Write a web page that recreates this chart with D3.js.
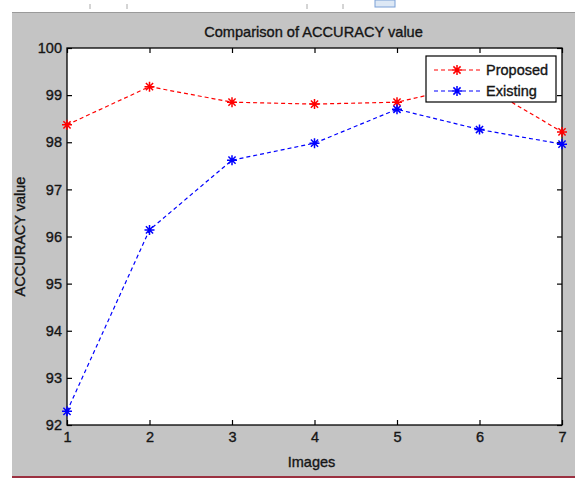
<!DOCTYPE html>
<html>
<head>
<meta charset="utf-8">
<script src="https://cdn.jsdelivr.net/npm/d3@7"></script>
<style>
  body { margin: 0; background: #fff; }
  text { font-family: "Liberation Sans", Arial, sans-serif; fill: #151515; stroke: #151515; stroke-width: 0.35px; }
</style>
</head>
<body>
<div id="content"></div>
<script>
// datas
const images = [1, 2, 3, 4, 5, 6, 7];
const proposed = [98.37, 99.18, 98.85, 98.81, 98.85, 99.25, 98.22];
const existing = [92.29, 96.14, 97.62, 97.98, 98.70, 98.27, 97.96];
const yTicks = [92, 93, 94, 95, 96, 97, 98, 99, 100];
const seriesNames = ["Proposed", "Existing"];
const seriesColors = ["#ff0000", "#0000ff"];

// view
const w = 575;
const h = 478;
const pLeft = 67, pRight = 562, pTop = 48, pBottom = 425;

const svg = d3.select("#content")
            .append("svg")
            .attr("width", w)
            .attr("height", h);

// window frame
svg.append("rect").attr("x", 12).attr("y", 13).attr("width", w - 12).attr("height", 463).attr("fill", "#c4c4c4");
svg.append("line").attr("x1", 12).attr("x2", w).attr("y1", 12.5).attr("y2", 12.5).attr("stroke", "#9a9a9a");
svg.append("rect").attr("x", 12).attr("y", 476).attr("width", w - 12).attr("height", 2).attr("fill", "#9b3040");
// bits of toolbar
[90, 127, 307, 343].forEach(x => {
  svg.append("line").attr("x1", x).attr("x2", x).attr("y1", 4).attr("y2", 9).attr("stroke", "#aaa");
});
svg.append("rect").attr("x", 375).attr("y", 0).attr("width", 20).attr("height", 7).attr("fill", "#dde8f5").attr("stroke", "#7aa0d6");

const x = d3.scaleLinear().domain([1, 7]).range([pLeft, pRight]);
const y = d3.scaleLinear().domain([92, 100]).range([pBottom, pTop]);

// plot area
svg.append("rect")
   .attr("x", pLeft).attr("y", pTop)
   .attr("width", pRight - pLeft).attr("height", pBottom - pTop)
   .attr("fill", "#fff");

// axes, ticks inward like matlab
const ax = (g, axis) => {
  g.call(axis);
  g.select(".domain").remove();
  g.selectAll("line").attr("stroke", "#000").attr("stroke-width", 1.2);
  g.selectAll("text").attr("font-size", 14.5).attr("fill", "#151515")
   .attr("font-family", "Liberation Sans, Arial, sans-serif");
};

svg.append("g").attr("transform", `translate(0,${pBottom})`)
   .call(g => ax(g, d3.axisBottom(x).tickValues(images).tickFormat(d3.format("d")).tickSizeInner(-5).tickSizeOuter(0).tickPadding(7)));
svg.append("g").attr("transform", `translate(0,${pTop})`)
   .call(g => ax(g, d3.axisTop(x).tickValues(images).tickFormat("").tickSizeInner(-5).tickSizeOuter(0)));
svg.append("g").attr("transform", `translate(${pLeft},0)`)
   .call(g => ax(g, d3.axisLeft(y).tickValues(yTicks).tickFormat(d3.format("d")).tickSizeInner(-5).tickSizeOuter(0).tickPadding(5)));
svg.append("g").attr("transform", `translate(${pRight},0)`)
   .call(g => ax(g, d3.axisRight(y).tickValues(yTicks).tickFormat("").tickSizeInner(-5).tickSizeOuter(0)));

// box
svg.append("rect")
   .attr("x", pLeft).attr("y", pTop)
   .attr("width", pRight - pLeft).attr("height", pBottom - pTop)
   .attr("fill", "none").attr("stroke", "#000").attr("stroke-width", 1.3);

// asterisk marker
const star = r => {
  const d = r * 0.72;
  return `M${-r},0H${r}M0,${-r}V${r}M${-d},${-d}L${d},${d}M${-d},${d}L${d},${-d}`;
};

const line = d3.line().x((d, i) => x(images[i])).y(d => y(d));

[proposed, existing].forEach((vals, k) => {
  svg.append("path")
     .attr("d", line(vals))
     .attr("fill", "none")
     .attr("stroke", seriesColors[k])
     .attr("stroke-width", 1.2)
     .attr("stroke-dasharray", "4,3");
  svg.selectAll(null)
     .data(vals)
     .enter()
     .append("path")
     .attr("transform", (d, i) => `translate(${x(images[i])},${y(d)})`)
     .attr("d", star(5))
     .attr("stroke", seriesColors[k])
     .attr("stroke-width", 1.5)
     .attr("fill", "none");
});

// legend
const lg = svg.append("g").attr("transform", "translate(426,56)");
lg.append("rect").attr("width", 130).attr("height", 46).attr("fill", "#fff").attr("stroke", "#000").attr("stroke-width", 1.2);
seriesNames.forEach((name, k) => {
  const cy = 14 + k * 21;
  lg.append("line").attr("x1", 8).attr("x2", 54).attr("y1", cy).attr("y2", cy)
    .attr("stroke", seriesColors[k]).attr("stroke-width", 1.2).attr("stroke-dasharray", "4,3");
  lg.append("path").attr("transform", `translate(31,${cy})`).attr("d", star(5))
    .attr("stroke", seriesColors[k]).attr("stroke-width", 1.5).attr("fill", "none");
  lg.append("text").attr("x", 60).attr("y", cy + 5).attr("font-size", 14.5).text(name);
});

// title
svg.append("text")
   .attr("x", (pLeft + pRight) / 2 - 1).attr("y", 37)
   .attr("text-anchor", "middle").attr("font-size", 14.6)
   .text("Comparison of ACCURACY value");

svg.append("text")
   .attr("x", (pLeft + pRight) / 2 - 3).attr("y", 467)
   .attr("text-anchor", "middle").attr("font-size", 14.5)
   .text("Images");

svg.append("text")
   .attr("transform", `translate(25,${(pTop + pBottom) / 2}) rotate(-90)`)
   .attr("text-anchor", "middle").attr("font-size", 14.5)
   .text("ACCURACY value");
</script>
</body>
</html>
